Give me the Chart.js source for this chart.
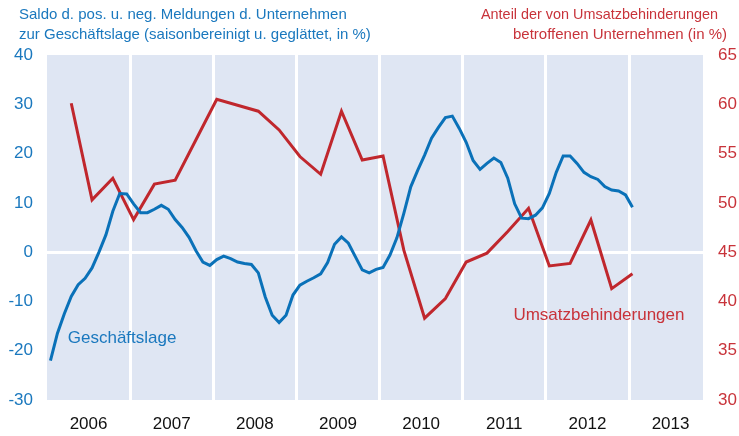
<!DOCTYPE html>
<html>
<head>
<meta charset="utf-8">
<script src="https://cdn.jsdelivr.net/npm/chart.js@4.4.1/dist/chart.umd.min.js"></script>
<style>
  html, body { margin: 0; padding: 0; background: #fff; }
  #wrap { width: 739px; height: 436px; position: relative; }
</style>
</head>
<body>
<div id="wrap"><canvas id="geschaeftChart"></canvas></div>
<script>
// Monatswerte Jan 2006 .. Jan 2013 (Saldo, linke Achse)
const startYear = 2006;
const geschaeftslage = [
    -22, -16.5, -12.5, -9.0, -6.6, -5.3, -3.2, 0, 3.5, 8.3, 11.9, 11.8,
    9.8, 8.0, 8.0, 8.7, 9.5, 8.7, 6.6, 5.0, 3.0, 0.3, -2.0, -2.7,
    -1.5, -0.8, -1.3, -2.0, -2.3, -2.5, -4.2, -9.1, -12.8, -14.3, -12.8, -8.7,
    -6.7, -5.9, -5.2, -4.4, -2.1, 1.6, 3.1, 1.8, -0.9, -3.6, -4.2, -3.5,
    -3.1, -0.6, 2.9, 7.85, 13.25, 16.6, 19.7, 23.1, 25.3, 27.3, 27.6, 25.1,
    22.3, 18.6, 16.8, 18.0, 19.1, 18.2, 15.0, 9.8, 6.9, 6.8, 7.5, 9.0,
    11.9, 16.2, 19.5, 19.5, 18.0, 16.2, 15.3, 14.75, 13.3, 12.6, 12.4, 11.6,
    9.1
];
// Quartalswerte Apr 2006 .. Jan 2013 (Anteil in %, rechte Achse)
const umsatzStartMonth = 3; // April 2006
const umsatzbehinderungen = [
    60.1, 50.3, 52.5, 48.3, 51.9, 52.3, 56.4, 60.5, 59.9, 59.3,
    57.4, 54.7, 52.9, 59.3, 54.35, 54.75, 45.2, 38.3, 40.3, 44.0,
    44.9, 47.1, 49.45, 43.6, 43.85, 48.26, 41.3, 42.8
];
const years = [2006, 2007, 2008, 2009, 2010, 2011, 2012, 2013];
const leftTicks = [-30, -20, -10, 0, 10, 20, 30, 40];
const rightTicks = [30, 35, 40, 45, 50, 55, 60, 65];

const titleLeft = ['Saldo d. pos. u. neg. Meldungen d. Unternehmen', 'zur Geschäftslage (saisonbereinigt u. geglättet, in %)'];
const titleRight = ['Anteil der von Umsatzbehinderungen', 'betroffenen Unternehmen (in %)'];

const FONT = '"Liberation Sans", Arial, sans-serif';
const BLUE = '#0a71b8';
const BLUE_TXT = '#1a78be';
const RED = '#c0272d';
const RED_TXT = '#c8333a';
const PLOT_BG = '#dfe6f3';

function monthToX(m) {
    return startYear + (m + 0.5) / 12;
}

const bluePoints = geschaeftslage.map((v, i) => ({ x: monthToX(i), y: v }));
const redPoints = umsatzbehinderungen.map((v, k) => ({ x: monthToX(umsatzStartMonth + 3 * k), y: v }));

const xTicks = [];
years.forEach(y => { xTicks.push(y); xTicks.push(y + 0.5); });

const decoPlugin = {
    id: 'deco',
    beforeDraw(chart) {
        const { ctx, chartArea } = chart;
        ctx.save();
        ctx.fillStyle = PLOT_BG;
        ctx.fillRect(chartArea.left, chartArea.top, chartArea.right - chartArea.left, chartArea.bottom - chartArea.top);
        ctx.restore();
    },
    afterDraw(chart) {
        const { ctx, scales } = chart;
        ctx.save();
        ctx.font = '15px ' + FONT;
        ctx.textBaseline = 'middle';
        ctx.fillStyle = BLUE_TXT;
        ctx.textAlign = 'left';
        ctx.fillText(titleLeft[0], 19, 15);
        ctx.fillText(titleLeft[1], 19, 35);
        ctx.fillStyle = RED_TXT;
        ctx.textAlign = 'right';
        ctx.fillText(titleRight[0], 718, 15, 237);
        ctx.fillText(titleRight[1], 727, 35);

        ctx.font = '17px ' + FONT;
        ctx.textAlign = 'left';
        ctx.fillStyle = BLUE_TXT;
        ctx.fillText('Geschäftslage', scales.x.getPixelForValue(2006.25), scales.y.getPixelForValue(-17.4));
        ctx.fillStyle = RED_TXT;
        ctx.fillText('Umsatzbehinderungen', scales.x.getPixelForValue(2011.61), scales.y2.getPixelForValue(38.6));
        ctx.restore();
    }
};

const ctx = document.getElementById('geschaeftChart').getContext('2d');
new Chart(ctx, {
    type: 'line',
    data: {
        datasets: [
            {
                label: 'Geschäftslage',
                data: bluePoints,
                yAxisID: 'y',
                borderColor: BLUE,
                borderWidth: 3,
                pointRadius: 0,
                tension: 0,
                fill: false
            },
            {
                label: 'Umsatzbehinderungen',
                data: redPoints,
                yAxisID: 'y2',
                borderColor: RED,
                borderWidth: 3,
                pointRadius: 0,
                tension: 0,
                fill: false
            }
        ]
    },
    options: {
        responsive: true,
        maintainAspectRatio: false,
        animation: false,
        layout: { padding: { top: 55, left: 0, right: 0, bottom: 0 } },
        plugins: {
            legend: { display: false },
            tooltip: { enabled: false },
            title: { display: false }
        },
        scales: {
            x: {
                type: 'linear',
                min: 2006,
                max: 2013.89,
                afterBuildTicks: (scale) => { scale.ticks = xTicks.map(v => ({ value: v })); },
                afterFit: (scale) => { scale.height = 36; },
                border: { display: false },
                grid: {
                    drawTicks: false,
                    lineWidth: 3,
                    color: (c) => (c.tick && Number.isInteger(c.tick.value) && c.tick.value > 2006) ? '#ffffff' : 'rgba(0,0,0,0)'
                },
                ticks: {
                    autoSkip: false,
                    maxRotation: 0,
                    padding: 14,
                    color: '#111',
                    font: { family: FONT, size: 17 },
                    callback: (v) => Number.isInteger(v) ? '' : String(Math.floor(v))
                }
            },
            y: {
                position: 'left',
                min: -30,
                max: 40,
                afterBuildTicks: (scale) => { scale.ticks = leftTicks.map(v => ({ value: v })); },
                afterFit: (scale) => { scale.width = 47; },
                border: { display: false },
                grid: {
                    drawTicks: false,
                    lineWidth: 3,
                    color: (c) => (c.tick && c.tick.value === 0) ? '#ffffff' : 'rgba(0,0,0,0)'
                },
                ticks: {
                    padding: 14,
                    color: BLUE_TXT,
                    font: { family: FONT, size: 17 }
                }
            },
            y2: {
                position: 'right',
                min: 30,
                max: 65,
                afterBuildTicks: (scale) => { scale.ticks = rightTicks.map(v => ({ value: v })); },
                afterFit: (scale) => { scale.width = 36; },
                border: { display: false },
                grid: { display: false, drawTicks: false },
                ticks: {
                    padding: 15,
                    color: RED_TXT,
                    font: { family: FONT, size: 17 }
                }
            }
        }
    },
    plugins: [decoPlugin]
});
</script>
</body>
</html>
